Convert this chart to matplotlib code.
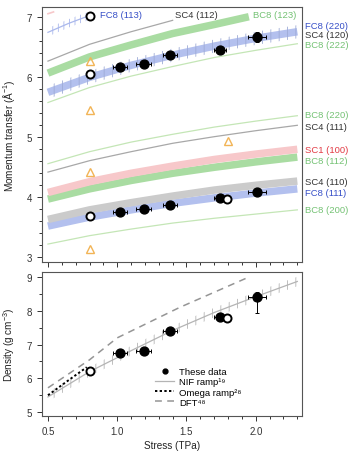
import matplotlib
matplotlib.use("Agg")
import matplotlib.pyplot as plt
import numpy as np
from matplotlib.ticker import MultipleLocator

plt.rcParams['font.family'] = ['Liberation Sans', 'DejaVu Sans']
plt.rcParams['mathtext.fontset'] = 'custom'
plt.rcParams['mathtext.rm'] = 'Liberation Sans'
plt.rcParams['mathtext.default'] = 'regular'
plt.rcParams['hatch.linewidth'] = 0.6

# stress grid (TPa) on which the predicted reflection curves were read
s_grid = [0.5, 0.8, 1.1, 1.4, 1.7, 2.0, 2.3]

# predicted momentum transfer for each reflection (1/A)
fc8_220 = [5.75, 6.00, 6.20, 6.37, 6.52, 6.65, 6.76]
bc8_222 = [5.58, 5.83, 6.02, 6.18, 6.33, 6.45, 6.56]
bc8_220 = [4.56, 4.76, 4.92, 5.05, 5.17, 5.27, 5.36]
sc4_111 = [4.42, 4.61, 4.76, 4.90, 5.01, 5.11, 5.20]
sc1_100 = [4.08, 4.26, 4.40, 4.52, 4.63, 4.72, 4.80]
bc8_112 = [3.97, 4.14, 4.28, 4.40, 4.50, 4.59, 4.67]
sc4_110 = [3.63, 3.79, 3.91, 4.02, 4.12, 4.20, 4.27]
fc8_111 = [3.52, 3.67, 3.79, 3.90, 3.99, 4.07, 4.14]
bc8_200 = [3.22, 3.36, 3.47, 3.57, 3.65, 3.72, 3.79]

bc8_123_s = [0.5, 0.8, 1.1, 1.4, 1.7, 1.95]
bc8_123 = [6.07, 6.34, 6.54, 6.73, 6.88, 7.01]
sc4_112_s = [0.5, 0.8, 1.1, 1.4]
sc4_112 = [6.27, 6.55, 6.76, 6.95]
fc8_113_s = [0.5, 0.65, 0.8]
fc8_113 = [6.75, 6.90, 7.03]
sc1_top_s = [0.5, 0.54]
sc1_top = [7.06, 7.09]

# measured data
stress = [1.02, 1.19, 1.38, 1.74, 2.01]
stress_err = [0.05, 0.055, 0.05, 0.045, 0.065]
q_high = [6.18, 6.23, 6.38, 6.45, 6.67]
q_high_err = [0.02, 0.02, 0.03, 0.04, 0.08]
q_low = [3.75, 3.80, 3.87, 3.98, 4.08]
q_low_err = [0.02, 0.02, 0.02, 0.03, 0.04]
density = [6.76, 6.80, 7.40, 7.81, 8.40]
density_err_lo = [0.0, 0.0, 0.0, 0.0, 0.45]
density_err_hi = [0.0, 0.0, 0.0, 0.0, 0.15]

open_q_stress = [0.8, 0.8, 0.8, 1.79]
open_q = [7.02, 6.05, 3.68, 3.97]
open_d_stress = [0.8, 1.79]
open_d = [6.23, 7.78]

tri_stress = [0.8, 0.8, 0.8, 0.8, 1.80]
tri_q = [6.27, 5.45, 4.42, 3.13, 4.93]

# reference equations of state
nif_density = [5.45, 6.20, 6.82, 7.42, 7.95, 8.42, 8.87]
omega_stress = [0.5, 0.64, 0.78]
omega_density = [5.50, 5.92, 6.33]
dft_stress = [0.5, 0.8, 1.0, 1.25, 1.45, 1.7, 1.95]
dft_density = [5.72, 6.55, 7.20, 7.70, 8.10, 8.55, 9.00]

BLUE_BAND = '#b3c0ee'
GREEN_BAND = '#a9dca2'
PINK_BAND = '#f7c8ca'
GRAY_BAND = '#cbcbcb'
THIN_GRAY = '#a8a8a8'
THIN_GREEN = '#c4e6b6'
TXT_BLUE = '#3850c8'
TXT_GREEN = '#74c274'
TXT_RED = '#e23a44'
TXT_DARK = '#333333'
ORANGE = '#f2b456'

fig = plt.figure(figsize=(3.56, 4.52), dpi=100)
ax1 = fig.add_axes([0.118, 0.418, 0.730, 0.564])
ax2 = fig.add_axes([0.118, 0.077, 0.730, 0.319])

band = dict(lw=5.4, solid_capstyle='butt', zorder=1)
thin = dict(lw=0.9, zorder=1)

# --- top panel: predicted reflections
ax1.plot(s_grid, bc8_200, color=THIN_GREEN, **thin)
ax1.plot(s_grid, fc8_111, color=BLUE_BAND, **band)
ax1.plot(s_grid, sc4_110, color=GRAY_BAND, **band)
ax1.plot(s_grid, bc8_112, color=GREEN_BAND, **band)
ax1.plot(s_grid, sc1_100, color=PINK_BAND, **band)
ax1.plot(s_grid, sc4_111, color=THIN_GRAY, **thin)
ax1.plot(s_grid, bc8_220, color=THIN_GREEN, **thin)
ax1.plot(s_grid, bc8_222, color=THIN_GREEN, **thin)
ax1.plot(s_grid, fc8_220, color=BLUE_BAND, **band)
ax1.fill_between(s_grid, np.array(fc8_220) - 0.11, np.array(fc8_220) + 0.11,
                 facecolor='none', edgecolor='#9eabd6', hatch='||', linewidth=0, zorder=1.5)
ax1.plot(bc8_123_s, bc8_123, color=GREEN_BAND, **band)
ax1.plot(sc4_112_s, sc4_112, color=THIN_GRAY, **thin)
ax1.plot(fc8_113_s, fc8_113, color='#aab8ec', **thin)
ax1.fill_between(fc8_113_s, np.array(fc8_113) - 0.07, np.array(fc8_113) + 0.07,
                 facecolor='none', edgecolor='#aab8ec', hatch='|||', linewidth=0, zorder=1.5)
ax1.plot(sc1_top_s, sc1_top, color=PINK_BAND, lw=1.2, zorder=1)

err = dict(fmt='o', color='black', ms=6.4, elinewidth=0.7, capsize=1.5, capthick=0.7, zorder=4)
ax1.errorbar(stress, q_high, xerr=stress_err, yerr=q_high_err, **err)
ax1.errorbar(stress, q_low, xerr=stress_err, yerr=q_low_err, **err)
ax1.plot(open_q_stress, open_q, 'o', ms=5.8, mfc='white', mec='black', mew=1.4, zorder=5)
ax1.plot(tri_stress, tri_q, '^', ms=5.8, mfc='none', mec=ORANGE, mew=1.0, zorder=3)

# labels of reflections
ax1.text(0.877, 7.05, 'FC8 (113)', color=TXT_BLUE, fontsize=6.8, va='center')
ax1.text(1.42, 7.05, 'SC4 (112)', color=TXT_DARK, fontsize=6.8, va='center')
ax1.text(1.98, 7.05, 'BC8 (123)', color=TXT_GREEN, fontsize=6.8, va='center')
right_labels = [('FC8 (220)', 6.86, TXT_BLUE), ('SC4 (120)', 6.72, TXT_DARK),
                ('BC8 (222)', 6.55, TXT_GREEN), ('BC8 (220)', 5.38, TXT_GREEN),
                ('SC4 (111)', 5.18, TXT_DARK), ('SC1 (100)', 4.80, TXT_RED),
                ('BC8 (112)', 4.62, TXT_GREEN), ('SC4 (110)', 4.27, TXT_DARK),
                ('FC8 (111)', 4.08, TXT_BLUE), ('BC8 (200)', 3.80, TXT_GREEN)]
for txt, yy, col in right_labels:
    ax1.text(1.012, yy, txt, color=col, fontsize=6.8, va='center', ha='left',
             transform=ax1.get_yaxis_transform(), clip_on=False)

# --- bottom panel: density
ax2.plot(s_grid, nif_density, color='#b4b4b4', lw=0.9, zorder=1)
ax2.fill_between(s_grid, np.array(nif_density) - 0.14, np.array(nif_density) + 0.14,
                 facecolor='none', edgecolor='#b4b4b4', hatch='||', linewidth=0, zorder=1)
ax2.plot(omega_stress, omega_density, color='black', ls=(0, (1.2, 1.2)), lw=1.4, zorder=2)
ax2.plot(dft_stress, dft_density, color='#959595', ls=(0, (4.5, 3.5)), lw=1.1, zorder=2)
ax2.errorbar(stress, density, xerr=stress_err, yerr=[density_err_lo, density_err_hi], **err)
ax2.plot(open_d_stress, open_d, 'o', ms=5.8, mfc='white', mec='black', mew=1.4, zorder=5)

h_data = plt.Line2D([], [], ls='none', marker='o', ms=3.5, color='black')
h_nif = plt.Line2D([], [], color='#b4b4b4', lw=0.9)
h_omega = plt.Line2D([], [], color='black', ls=(0, (1.2, 1.2)), lw=1.4)
h_dft = plt.Line2D([], [], color='#959595', ls=(0, (4.5, 3.5)), lw=1.1)
ax2.legend([h_data, h_nif, h_omega, h_dft],
           ['These data', 'NIF ramp¹⁹', 'Omega ramp²⁸', 'DFT⁴⁸'],
           loc='upper left', bbox_to_anchor=(0.41, 0.385), frameon=False, fontsize=6.8,
           handlelength=2.0, handletextpad=0.5, labelspacing=0.12, borderpad=0.2)

# --- axes styling
for ax in (ax1, ax2):
    ax.set_xlim(0.457, 2.333)
    ax.xaxis.set_major_locator(MultipleLocator(0.5))
    ax.xaxis.set_minor_locator(MultipleLocator(0.1))
    ax.yaxis.set_major_locator(MultipleLocator(1))
    ax.tick_params(which='both', direction='out', labelsize=7, colors='#333333', width=0.7)
    ax.tick_params(which='major', length=3.5)
    ax.tick_params(which='minor', length=2.2)
    for sp in ax.spines.values():
        sp.set_color('#555555')
        sp.set_linewidth(0.8)

ax1.set_ylim(2.92, 7.17)
ax1.yaxis.set_minor_locator(MultipleLocator(0.2))
ax1.tick_params(axis='x', labelbottom=False)
ax1.set_ylabel('Momentum transfer (Å$^{-1}$)', fontsize=7.2, color='#222222', labelpad=7)

ax2.set_ylim(4.88, 9.15)
ax2.yaxis.set_minor_locator(MultipleLocator(0.5))
ax2.set_xticks([0.5, 1.0, 1.5, 2.0])
ax2.set_xticklabels(['0.5', '1.0', '1.5', '2.0'])
ax2.set_ylabel('Density (g cm$^{-3}$)', fontsize=7.2, color='#222222', labelpad=7)
ax2.set_xlabel('Stress (TPa)', fontsize=7.2, color='#222222', labelpad=3)

fig.savefig('out.png', dpi=100)
